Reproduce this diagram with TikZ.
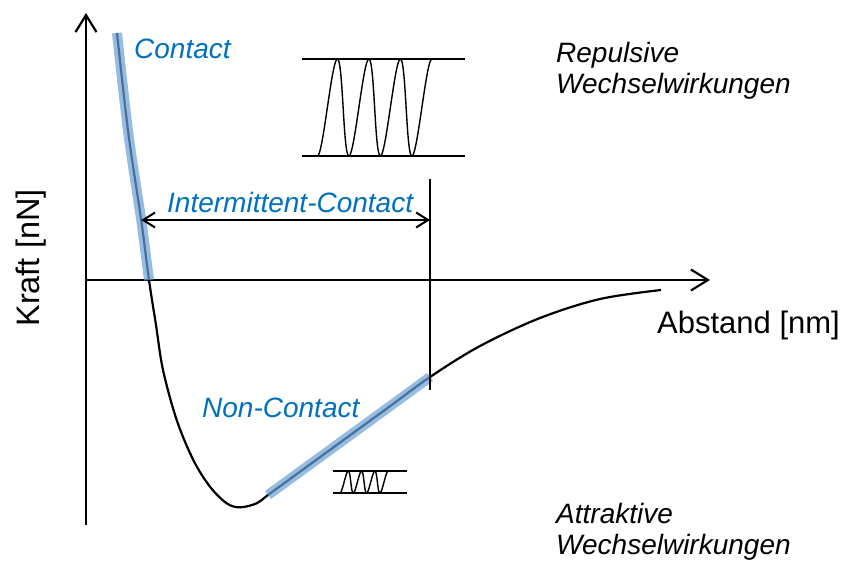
\documentclass[tikz,border=0pt]{standalone}
\usepackage{fontspec}
\setmainfont{Liberation Sans}
\usetikzlibrary{arrows.meta}
\definecolor{labblue}{RGB}{0,112,192}
\definecolor{bandblue}{RGB}{105,160,215}
\begin{document}
\begin{tikzpicture}[x=1pt,y=-1pt,
  axisline/.style={line width=2.2pt,-{Straight Barb[length=17pt,width=21pt,line width=2.2pt]}},
  curveline/.style={line width=2.2pt},
  bandline/.style={line width=10pt,draw=bandblue,opacity=0.7},
  rangearrow/.style={line width=2pt,{Straight Barb[length=12pt,width=15pt,line width=2pt]}-{Straight Barb[length=12pt,width=15pt,line width=2pt]}},
  thinline/.style={line width=1.2pt},
  waveline/.style={line width=1.4pt},
  bluelab/.style={font=\fontsize{28}{33}\selectfont\itshape,text=labblue,inner sep=0pt,anchor=base west},
  blacklab/.style={font=\fontsize{28}{31}\selectfont\itshape,inner sep=0pt,anchor=north west,align=left},
  axislab/.style={font=\fontsize{31}{36}\selectfont,inner sep=0pt}
]
\useasboundingbox (0,0) rectangle (845,560);

% axes
\coordinate (ybot) at (86,525);
\coordinate (ytop) at (86,13);
\coordinate (xl) at (86,280);
\coordinate (xr) at (710,280);
\draw[axisline] (ybot) -- (ytop);
\draw[axisline] (xl) -- (xr);

% potential curve
\draw[curveline] plot[smooth,tension=0.55] coordinates {
  (117,33) (128.3,133) (141.2,220) (149,280) (156,325) (163,370) (176.7,420)
  (193.3,460) (210,486.7) (226.7,503.3) (240,507.3) (256.7,503.3) (268,495)
  (300,471.7) (350,435.3) (390,406.2) (430,377) (480,346) (540,318) (600,299) (661,290)};

% highlighted regions
\draw[bandline] plot[smooth,tension=0.55] coordinates {(117,33) (128.3,133) (141.2,220) (149,280)};
\draw[bandline] plot[smooth,tension=0.55] coordinates {(268,495) (300,471.7) (350,435.3) (390,406.2) (430,377)};

% intermittent range
\coordinate (vtop) at (430,179);
\coordinate (vbot) at (430,390);
\draw[thinline] (vtop) -- (vbot);
\coordinate (al) at (141.2,220);
\coordinate (ar) at (430,220);
\draw[rangearrow] (al) -- (ar);

% large oscillation
\coordinate (b1tl) at (302,59);
\coordinate (b1tr) at (465,59);
\coordinate (b1bl) at (302,156);
\coordinate (b1br) at (465,156);
\draw[waveline] (b1tl) -- (b1tr);
\draw[waveline] (b1bl) -- (b1br);
\draw[waveline] plot[domain=0:3.5,samples=160,variable=\t]
  ({319.5+31.5*\t-2.125*cos(360*\t)},{107.5+48.5*cos(360*\t)});

% small oscillation
\coordinate (b2tl) at (333,471);
\coordinate (b2tr) at (407,471);
\coordinate (b2bl) at (333,493);
\coordinate (b2br) at (407,493);
\draw[waveline] (b2tl) -- (b2tr);
\draw[waveline] (b2bl) -- (b2br);
\draw[waveline] plot[domain=0:3.5,samples=120,variable=\t]
  ({340.8+13.3*\t-0.83*cos(360*\t)},{482+11*cos(360*\t)});

% labels
\node[bluelab] (contact) at (134,58) {Contact};
\node[bluelab] (inter) at (167,212) {Intermittent-Contact};
\node[bluelab] (noncontact) at (202,417) {Non-Contact};
\node[blacklab] (rep) at (556,42) {Repulsive\\Wechselwirkungen};
\node[blacklab] (att) at (556,503) {Attraktive\\Wechselwirkungen};
\node[axislab,anchor=base west] (xlab) at (657,333) {Abstand [nm]};
\node[axislab,anchor=base,rotate=90,font=\fontsize{32.5}{38}\selectfont] (ylab) at (39,258) {Kraft [nN]};
\end{tikzpicture}
\end{document}
